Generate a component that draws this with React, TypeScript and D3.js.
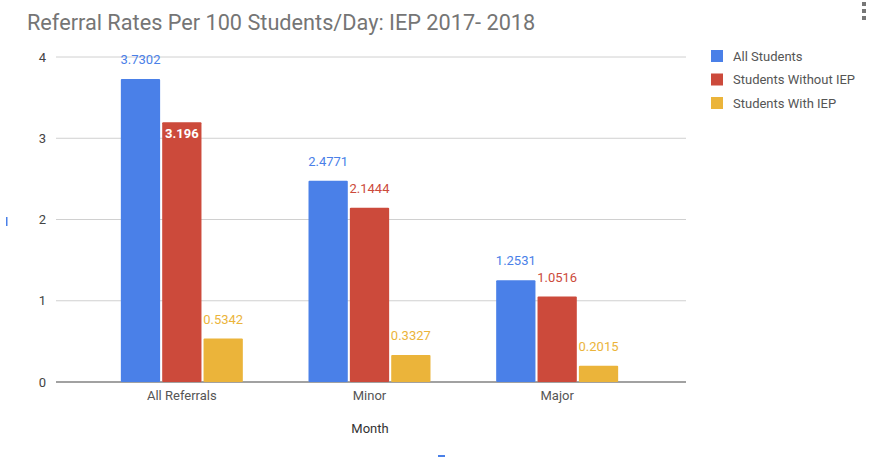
import React from "react";
import * as d3 from "d3";

const categories = ["All Referrals", "Minor", "Major"];
const seriesNames = ["All Students", "Students Without IEP", "Students With IEP"];
const allStudents = [3.7302, 2.4771, 1.2531];
const withoutIEP = [3.196, 2.1444, 1.0516];
const withIEP = [0.5342, 0.3327, 0.2015];
const yTicks = [0, 1, 2, 3, 4];
const colors = ["#4a80e8", "#cc4a3b", "#ebb43a"];
const labelColors = ["#4a80e8", "#cc4a3b", "#ebb43a"];

export default function App() {
  const W = 892, H = 460;
  const series = [allStudents, withoutIEP, withIEP];
  const y = d3.scaleLinear().domain([0, 4]).range([382, 57]);
  const x0 = d3.scaleBand().domain(categories).range([88, 651]).paddingInner(0.35).paddingOuter(0.175);
  const x1 = d3.scaleBand().domain(seriesNames).range([0, x0.bandwidth()]).paddingInner(0.05);
  const font = "Roboto, Arial, sans-serif";
  return (
    <svg width={W} height={H} style={{ position: "absolute", left: 0, top: 0, background: "#fff" }}>
      <rect width={W} height={H} fill="#fff" />
      <text x={27} y={30} fontFamily={font} fontSize={21.7} fill="#757575">Referral Rates Per 100 Students/Day: IEP 2017- 2018</text>
      {[4, 11, 18].map((cy) => <rect key={cy} x={862} y={cy - 2} width={4} height={4} fill="#777" />)}
      {yTicks.map((t) => (
        <g key={t}>
          <line x1={56} x2={686} y1={y(t)} y2={y(t)} stroke={t === 0 ? "#444" : "#d0d0d0"} strokeWidth={t === 0 ? 1.2 : 1} />
          <text x={46} y={y(t) + 4.5} textAnchor="end" fontFamily={font} fontSize={13} fill="#444">{t}</text>
        </g>
      ))}
      {categories.map((c, i) => (
        <g key={c}>
          {series.map((s, j) => {
            const bx = (x0(c) as number) + (x1(seriesNames[j]) as number);
            const bw = x1.bandwidth();
            const top = y(s[i]);
            const inside = j === 1 && i === 0;
            return (
              <g key={j}>
                <rect x={bx} y={top} width={bw} height={y(0) - top} fill={colors[j]} rx={1} />
                <text x={bx + bw / 2} y={inside ? top + 16 : top - 15} textAnchor="middle" fontFamily={font} fontSize={13}
                  fontWeight={inside ? "bold" : "normal"} fill={inside ? "#fff" : labelColors[j]}>{s[i]}</text>
              </g>
            );
          })}
          <text x={(x0(c) as number) + x0.bandwidth() / 2} y={400} textAnchor="middle" fontFamily={font} fontSize={13} fill="#555">{c}</text>
        </g>
      ))}
      <text x={370} y={433} textAnchor="middle" fontFamily={font} fontSize={13} fill="#333">Month</text>
      {seriesNames.map((n, j) => (
        <g key={n}>
          <rect x={711} y={56 + j * 23.5 - 6} width={12} height={12} fill={colors[j]} />
          <text x={733} y={56 + j * 23.5 + 4.5} fontFamily={font} fontSize={13} fill="#555">{n}</text>
        </g>
      ))}
      <rect x={6} y={217} width={1.5} height={9} fill="#4a80e8" />
      <rect x={438} y={455} width={7} height={2} fill="#4a80e8" />
    </svg>
  );
}
